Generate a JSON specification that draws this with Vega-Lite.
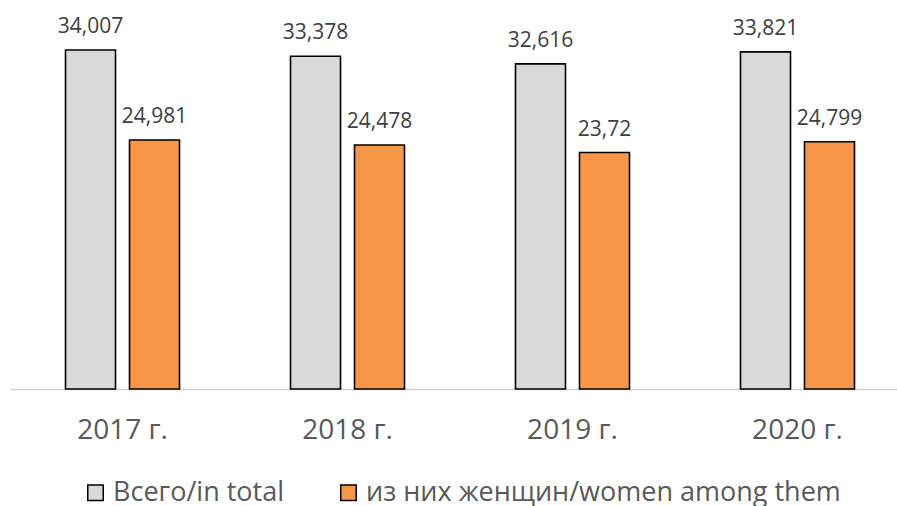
{
  "$schema": "https://vega.github.io/schema/vega-lite/v6.json",
  "width": 900,
  "height": 389,
  "autosize": {"type": "none"},
  "padding": {"left": 10, "top": 0, "right": 0, "bottom": 117},
  "background": "white",
  "data": {
    "values": [
      {"year": "2017 г.", "series": "Всего/in total", "value": 34.007},
      {"year": "2017 г.", "series": "из них женщин/women among them", "value": 24.981},
      {"year": "2018 г.", "series": "Всего/in total", "value": 33.378},
      {"year": "2018 г.", "series": "из них женщин/women among them", "value": 24.478},
      {"year": "2019 г.", "series": "Всего/in total", "value": 32.616},
      {"year": "2019 г.", "series": "из них женщин/women among them", "value": 23.72},
      {"year": "2020 г.", "series": "Всего/in total", "value": 33.821},
      {"year": "2020 г.", "series": "из них женщин/women among them", "value": 24.799}
    ]
  },
  "encoding": {
    "x": {
      "field": "year", "type": "nominal", "sort": null,
      "scale": {"paddingInner": 0.4933, "paddingOuter": 0.2467},
      "axis": {
        "title": null, "ticks": false, "domainColor": "#d0d0d0", "domainWidth": 1.3,
        "labelAngle": 0, "labelFontSize": 28, "labelColor": "#595959",
        "labelFont": "Open Sans", "labelPadding": 27
      }
    },
    "xOffset": {
      "field": "series", "type": "nominal", "sort": null,
      "scale": {"paddingInner": 0.21875, "paddingOuter": 0}
    },
    "y": {
      "field": "value", "type": "quantitative",
      "scale": {"domain": [0, 39.024], "nice": false, "zero": true},
      "axis": null
    }
  },
  "layer": [
    {
      "mark": {"type": "bar", "stroke": "black", "strokeWidth": 1.6},
      "encoding": {
        "color": {
          "field": "series", "type": "nominal", "sort": null,
          "scale": {
            "domain": ["Всего/in total", "из них женщин/women among them"],
            "range": ["#d9d9d9", "#f79646"]
          },
          "legend": {
            "title": null, "orient": "none", "direction": "horizontal",
            "legendX": 72, "legendY": 479, "padding": 0,
            "symbolType": "square", "symbolSize": 240,
            "symbolStrokeColor": "black", "symbolStrokeWidth": 1.5,
            "labelFontSize": 27, "labelFont": "Open Sans", "labelColor": "#595959",
            "labelLimit": 0, "columnPadding": 50, "labelOffset": 4
          }
        }
      }
    },
    {
      "mark": {
        "type": "text", "baseline": "bottom", "dy": -13,
        "fontSize": 21, "font": "Open Sans", "color": "#404040"
      },
      "encoding": {
        "text": {"field": "value", "type": "quantitative", "format": ".5~r"}
      }
    }
  ],
  "config": {
    "view": {"stroke": null},
    "locale": {
      "number": {"decimal": ",", "thousands": " ", "grouping": [3], "currency": ["", ""]}
    }
  }
}
